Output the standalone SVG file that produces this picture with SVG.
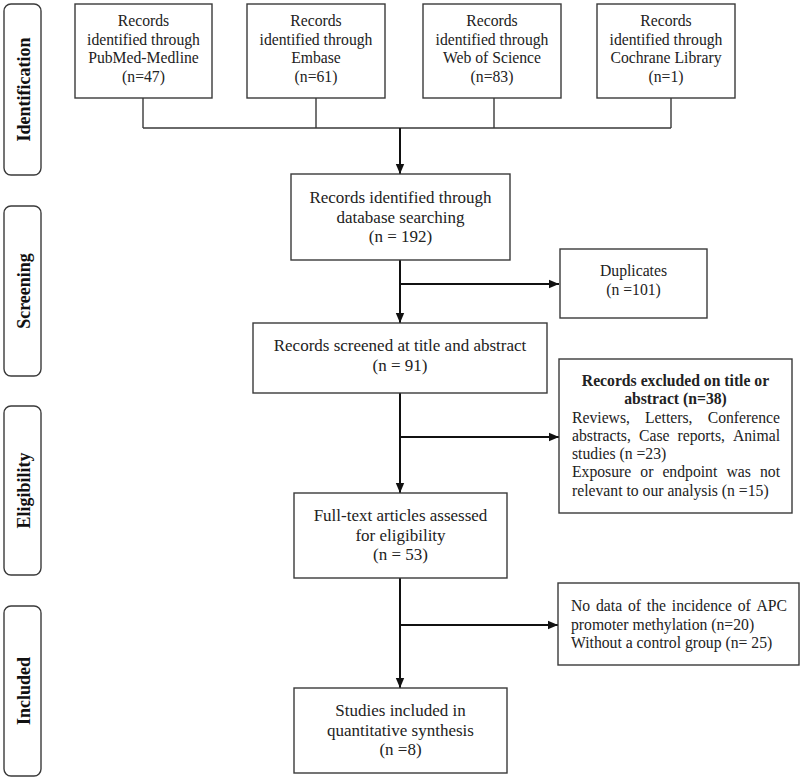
<svg xmlns="http://www.w3.org/2000/svg" width="800" height="780" viewBox="0 0 800 780">
<defs>
<marker id="arr" markerUnits="userSpaceOnUse" markerWidth="10" markerHeight="10" refX="10" refY="5" orient="auto">
<path d="M0,0.8 L10,5 L0,9.2 z" fill="#111"/>
</marker>
<style>
.box{fill:#fff;stroke:#3a3a3a;stroke-width:1.4}
.stage{fill:#fff;stroke:#3a3a3a;stroke-width:1.4}
.t{font-family:"Liberation Serif","Times New Roman",serif;font-size:15.7px;fill:#222}
.tm{font-family:"Liberation Serif","Times New Roman",serif;font-size:17px;fill:#222;text-anchor:middle}
.c{text-anchor:middle}
.e{text-anchor:end}
.b{font-weight:bold}
.st{font-family:"Liberation Serif","Times New Roman",serif;font-size:18px;font-weight:bold;fill:#111;text-anchor:middle}
.thin{stroke:#3a3a3a;stroke-width:1.4;fill:none}
.main{stroke:#111;stroke-width:2;fill:none}
</style>
</defs>
<rect width="800" height="780" fill="#fff"/>

<g id="stage-identification"><rect class="stage" x="4" y="4" width="37" height="171" rx="7"/><text class="st" transform="translate(30,89.5) rotate(-90)">Identification</text></g>
<g id="stage-screening"><rect class="stage" x="4" y="206" width="37" height="170" rx="7"/><text class="st" transform="translate(30,291) rotate(-90)">Screening</text></g>
<g id="stage-eligibility"><rect class="stage" x="4" y="406" width="37" height="169" rx="7"/><text class="st" transform="translate(30,490.5) rotate(-90)">Eligibility</text></g>
<g id="stage-included"><rect class="stage" x="4" y="606" width="37" height="170" rx="7"/><text class="st" transform="translate(30,691) rotate(-90)">Included</text></g>

<g id="connectors">
<path class="thin" d="M143,98 V128 M316,98 V128 M494,98 V128 M671,98 V128 M143,128 H671"/>
<path class="main" d="M400,128 V174" marker-end="url(#arr)"/>
<path class="main" d="M400,260 V323" marker-end="url(#arr)"/>
<path class="main" d="M400,284 H559" marker-end="url(#arr)"/>
<path class="main" d="M400,393 V493" marker-end="url(#arr)"/>
<path class="main" d="M400,437 H559" marker-end="url(#arr)"/>
<path class="main" d="M400,578 V688" marker-end="url(#arr)"/>
<path class="main" d="M400,625 H558" marker-end="url(#arr)"/>
</g>

<g id="pubmed"><rect class="box" x="75" y="4" width="137" height="94"/>
<text class="t c"><tspan x="143.5" y="26">Records</tspan><tspan x="143.5" y="44.5">identified through</tspan><tspan x="143.5" y="63">PubMed-Medline</tspan><tspan x="143.5" y="81.5">(n=47)</tspan></text></g>
<g id="embase"><rect class="box" x="247" y="4" width="138" height="94"/>
<text class="t c"><tspan x="316" y="26">Records</tspan><tspan x="316" y="44.5">identified through</tspan><tspan x="316" y="63">Embase</tspan><tspan x="316" y="81.5">(n=61)</tspan></text></g>
<g id="wos"><rect class="box" x="423" y="4" width="138" height="94"/>
<text class="t c"><tspan x="492" y="26">Records</tspan><tspan x="492" y="44.5">identified through</tspan><tspan x="492" y="63">Web of Science</tspan><tspan x="492" y="81.5">(n=83)</tspan></text></g>
<g id="cochrane"><rect class="box" x="597" y="4" width="138" height="94"/>
<text class="t c"><tspan x="666" y="26">Records</tspan><tspan x="666" y="44.5">identified through</tspan><tspan x="666" y="63">Cochrane Library</tspan><tspan x="666" y="81.5">(n=1)</tspan></text></g>

<g id="identified"><rect class="box" x="291" y="174" width="219" height="86"/>
<text class="tm"><tspan x="400.5" y="203">Records identified through</tspan><tspan x="400.5" y="222.5">database searching</tspan><tspan x="400.5" y="242">(n = 192)</tspan></text></g>

<g id="duplicates"><rect class="box" x="560" y="249" width="147" height="69"/>
<text class="t c"><tspan x="633.5" y="276">Duplicates</tspan><tspan x="633.5" y="294.5">(n =101)</tspan></text></g>

<g id="screened"><rect class="box" x="253" y="323" width="294" height="70"/>
<text class="tm"><tspan x="400" y="351">Records screened at title and abstract</tspan><tspan x="400" y="370.5">(n = 91)</tspan></text></g>

<g id="excluded-title"><rect class="box" x="559" y="359" width="233" height="154"/>
<text class="t c b"><tspan x="675.5" y="386">Records excluded on title or</tspan><tspan x="675.5" y="404">abstract (n=38)</tspan></text>
<text class="t" y="422.5"><tspan x="572">Reviews,</tspan><tspan x="645">Letters,</tspan></text><text class="t e" x="780" y="422.5">Conference</text>
<text class="t" y="441"><tspan x="572">abstracts,</tspan><tspan x="639">Case</tspan><tspan x="677.5">reports,</tspan></text><text class="t e" x="780" y="441">Animal</text>
<text class="t" x="572" y="459">studies (n =23)</text>
<text class="t" y="477"><tspan x="572">Exposure</tspan><tspan x="640.3">or</tspan><tspan x="662.4">endpoint</tspan><tspan x="726.4">was</tspan></text><text class="t e" x="780" y="477">not</text>
<text class="t" x="572" y="495.5">relevant to our analysis (n =15)</text></g>

<g id="fulltext"><rect class="box" x="294" y="493" width="213" height="85"/>
<text class="tm"><tspan x="400.5" y="521">Full-text articles assessed</tspan><tspan x="400.5" y="540.5">for eligibility</tspan><tspan x="400.5" y="560">(n = 53)</tspan></text></g>

<g id="excluded-fulltext"><rect class="box" x="558" y="583" width="241" height="82"/>
<text class="t" y="611"><tspan x="571">No</tspan><tspan x="596">data</tspan><tspan x="628">of</tspan><tspan x="646.8">the</tspan><tspan x="671.8">incidence</tspan><tspan x="737.7">of</tspan></text><text class="t e" x="787" y="611">APC</text>
<text class="t" x="571" y="629.5">promoter methylation (n=20)</text>
<text class="t" x="571" y="648">Without a control group (n= 25)</text></g>

<g id="included"><rect class="box" x="294" y="688" width="213" height="85"/>
<text class="tm"><tspan x="400.5" y="716">Studies included in</tspan><tspan x="400.5" y="735.5">quantitative synthesis</tspan><tspan x="400.5" y="755">(n =8)</tspan></text></g>
</svg>
